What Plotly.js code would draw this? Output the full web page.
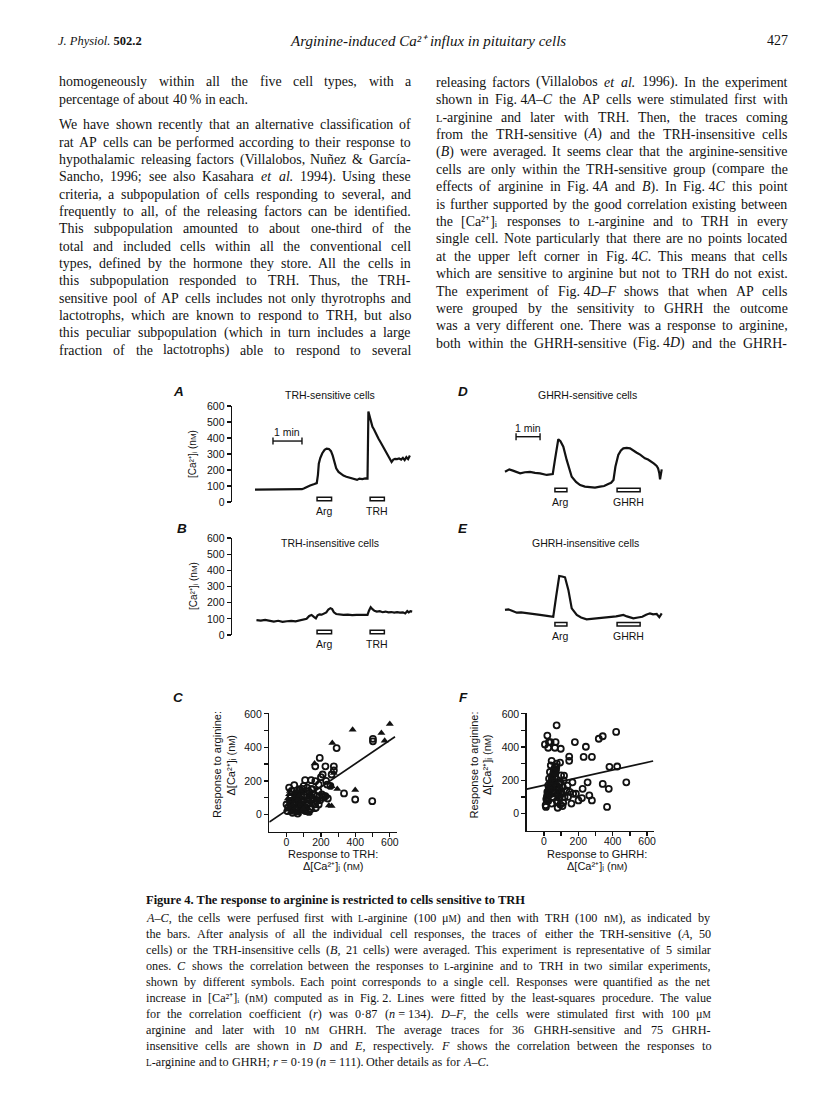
<!DOCTYPE html>
<html><head><meta charset="utf-8">
<script src="https://cdn.plot.ly/plotly-3.0.1.min.js"></script>
<style>html,body{margin:0;padding:0;background:#fff;}#chart{width:816px;height:1110px;}</style>
</head><body><div id="chart"></div>
<script>
// ---------------- DATA ----------------
// A: TRH-sensitive cells, time (min) and [Ca2+]i (nM)
const traceA_t = [0.00,0.25,0.50,0.75,1.00,1.25,1.50,1.62,1.70,1.78,1.90,2.05,2.13,2.17,2.20,2.25,2.32,2.40,2.47,2.55,2.62,2.68,2.74,2.80,2.88,2.95,3.05,3.15,3.25,3.35,3.45,3.52,3.60,3.70,3.80,3.88,3.91,3.95,4.00,4.05,4.10,4.18,4.26,4.34,4.42,4.50,4.58,4.65,4.71,4.77,4.83,4.90,4.97,5.04,5.10,5.16,5.22,5.28,5.34];
const traceA_ca = [77,78,76,77,79,79,80,80,86,95,103,112,118,170,240,275,305,326,334,331,318,290,245,210,188,176,165,158,152,147,141,138,146,143,147,146,565,540,500,470,455,420,395,370,345,318,290,265,250,265,270,268,272,265,276,262,280,268,290];
// B: TRH-insensitive cells
const traceB_t = [0.05,0.2,0.35,0.5,0.65,0.8,0.95,1.1,1.25,1.4,1.55,1.7,1.78,1.87,1.95,2.03,2.10,2.16,2.22,2.30,2.38,2.46,2.53,2.60,2.66,2.72,2.80,2.90,3.05,3.2,3.35,3.5,3.65,3.8,3.88,3.93,3.99,4.05,4.12,4.2,4.3,4.4,4.5,4.6,4.7,4.8,4.9,5.0,5.1,5.18,5.25,5.3,5.36,5.42];
const traceB_ca = [92,89,93,86,83,88,81,85,87,84,90,93,100,118,124,112,103,122,128,126,134,140,158,166,160,140,130,128,124,126,123,125,124,123,124,150,172,160,150,145,147,141,145,140,142,139,141,138,140,133,148,140,147,145];
// D: GHRH-sensitive cells
const traceD_t = [0,0.18,0.33,0.63,0.83,1.04,1.25,1.46,1.74,1.99,2.08,2.22,2.31,2.43,2.57,2.67,2.78,2.96,3.13,3.33,3.54,3.75,3.96,4.13,4.30,4.42,4.52,4.60,4.72,4.83,4.93,5.07,5.21,5.33,5.49,5.63,5.75,5.83,5.96,6.11,6.21,6.32,6.38,6.43,6.46,6.53];
const traceD_ca = [189,204,196,179,186,188,182,179,169,175,263,392,380,346,263,205,158,125,106,96,92,90,96,100,113,120,138,220,294,322,335,338,335,322,308,296,280,273,265,252,240,225,210,179,142,204];
// E: GHRH-insensitive cells
const traceE_t = [0,0.14,0.29,0.49,0.67,0.90,1.17,1.46,1.75,2.01,2.13,2.26,2.38,2.50,2.64,2.78,2.99,3.17,3.40,3.67,3.96,4.17,4.38,4.63,4.79,4.93,5.08,5.35,5.54,5.72,5.88,6.04,6.17,6.32,6.43,6.53];
const traceE_ca = [155,159,150,138,140,134,130,124,118,113,237,365,362,357,279,165,124,108,97,100,103,108,110,115,120,124,115,103,108,113,125,134,128,130,110,134];
// stimulus windows (min)
const argWindowAB = [2.14,2.64];
const trhWindowAB = [3.97,4.46];
const argWindowDE = [2.08,2.58];
const ghrhWindowDE = [4.67,5.63];
const scaleBarA_t = [0.62,1.62];
const scaleBarD_t = [0.46,1.46];
const stimLabelsAB = ["Arg","TRH"];
const stimLabelsDE = ["Arg","GHRH"];
// C: response to arginine vs TRH (two experiments)
const scatterC_tri_x = [384,600,551,570,266,399,20,163,275,295,262,246,262,230,180,140,10,15,25,30,40,45,55,60,70,75,85,90,100,110,120,130,145,155,20,35,50,65,80,95,105,115,125,5,12,28,48,68,88,108,8,18,33,43,58,73,83,98,113,128,138,150,62,78];
const scatterC_tri_y = [505,540,485,440,426,145,139,303,247,152,168,53,50,110,90,70,60,120,85,40,100,20,130,65,30,110,50,95,15,75,40,120,55,25,10,75,45,90,20,125,60,35,100,30,80,15,110,5,70,50,95,45,55,130,10,115,140,35,85,10,85,100,140,62];
const scatterC_circ_x = [502,502,291,193,167,226,275,275,210,200,108,143,167,187,236,262,334,399,498,226,177,187,92,128,212,240,150,120,160,185,195,140,100,75,60,50,40,30,20,10,5,35,55,70,85,95,110,125,135,150,165,175,15,45,65,80,105,115,130,145,25,0,90,170,205,230,255,215,120,60];
const scatterC_circ_y = [451,436,396,337,287,287,287,263,238,222,204,204,198,178,178,238,125,89,79,109,109,59,152,139,100,95,150,160,120,140,85,30,170,150,120,100,60,140,80,40,20,10,70,30,110,50,20,90,130,100,60,80,160,175,5,145,115,40,15,150,105,60,75,40,120,200,170,110,60,95];
const fitC_x = [-100,630];
const fitC_y = [-46,463];
// F: response to arginine vs GHRH
const scatterF_x = [74,20,6,29,39,68,25,64,98,420,342,319,180,244,147,147,231,279,45,94,381,426,479,342,377,254,225,166,137,117,68,170,186,201,221,264,279,367,
 10,15,20,25,30,35,40,45,50,55,60,65,70,75,80,85,90,95,100,105,110,115,120,
 12,22,32,42,52,62,72,82,92,102,112,
 18,28,38,48,58,68,78,88,98,108,
 15,25,35,45,55,65,75,85,95,
 20,30,40,50,60,70,80,
 25,35,45,55,65,
 130,140,150,160];
const scatterF_y = [531,469,416,430,430,430,396,396,390,491,465,450,430,402,343,317,341,341,317,307,281,283,188,178,149,188,149,188,168,228,267,119,119,79,93,109,79,40,
 50,90,130,170,210,250,290,60,100,140,180,220,260,300,70,110,150,190,230,120,160,200,100,
 40,80,120,160,200,240,280,140,180,130,65,
 105,145,185,225,265,125,165,95,115,45,
 85,125,165,205,245,285,75,115,55,
 95,135,175,215,255,155,35,
 75,115,155,195,120,
 140,100,130,60];
const fitF_x = [-100,635];
const fitF_y = [147,316];
const caTickVals = [0,100,200,300,400,500,600];
const scatterMajorTicks = [0,200,400,600];
const scatterMinorTicks = [100,300,500];

// text
const headerLeft = "<i>J. Physiol.</i> <b>502.2</b>";
const headerTitle = "<i>Arginine-induced Ca²⁺ influx in pituitary cells</i>";
const headerPage = "427";
const leftColumnLines = [
 "homogeneously within all the five cell types, with a",
 "percentage of about 40\u2009% in each.",
 "We have shown recently that an alternative classification of",
 "rat AP cells can be performed according to their response to",
 "hypothalamic releasing factors (Villalobos, Nuñez &amp; García-",
 "Sancho, 1996; see also Kasahara <i>et</i> <i>al.</i> 1994). Using these",
 "criteria, a subpopulation of cells responding to several, and",
 "frequently to all, of the releasing factors can be identified.",
 "This subpopulation amounted to about one-third of the",
 "total and included cells within all the conventional cell",
 "types, defined by the hormone they store. All the cells in",
 "this subpopulation responded to TRH. Thus, the TRH-",
 "sensitive pool of AP cells includes not only thyrotrophs and",
 "lactotrophs, which are known to respond to TRH, but also",
 "this peculiar subpopulation (which in turn includes a large",
 "fraction of the lactotrophs) able to respond to several"
];
const leftColumnJustified = [1,0,1,1,1,1,1,1,1,1,1,1,1,1,1,1];
const rightColumnLines = [
 "releasing factors (Villalobos <i>et</i> <i>al.</i> 1996). In the experiment",
 "shown in Fig.\u00a04<i>A–C</i> the AP cells were stimulated first with",
 "~L~-arginine and later with TRH. Then, the traces coming",
 "from the TRH-sensitive (<i>A</i>) and the TRH-insensitive cells",
 "(<i>B</i>) were averaged. It seems clear that the arginine-sensitive",
 "cells are only within the TRH-sensitive group (compare the",
 "effects of arginine in Fig.\u00a04<i>A</i> and <i>B</i>). In Fig.\u00a04<i>C</i> this point",
 "is further supported by the good correlation existing between",
 "the [Ca²⁺]ᵢ responses to ~L~-arginine and to TRH in every",
 "single cell. Note particularly that there are no points located",
 "at the upper left corner in Fig.\u00a04<i>C</i>. This means that cells",
 "which are sensitive to arginine but not to TRH do not exist.",
 "The experiment of Fig.\u00a04<i>D–F</i> shows that when AP cells",
 "were grouped by the sensitivity to GHRH the outcome",
 "was a very different one. There was a response to arginine,",
 "both within the GHRH-sensitive (Fig.\u00a04<i>D</i>) and the GHRH-"
];
const rightColumnJustified = [1,1,1,1,1,1,1,1,1,1,1,1,1,1,1,1];
const captionTitle = "<b>Figure 4. The response to arginine is restricted to cells sensitive to TRH</b>";
const captionLines = [
 "<i>A–C</i>, the cells were perfused first with ~L~-arginine (100 μ~M~) and then with TRH (100 n~M~), as indicated by",
 "the bars. After analysis of all the individual cell responses, the traces of either the TRH-sensitive (<i>A</i>, 50",
 "cells) or the TRH-insensitive cells (<i>B</i>, 21 cells) were averaged. This experiment is representative of 5 similar",
 "ones. <i>C</i> shows the correlation between the responses to ~L~-arginine and to TRH in two similar experiments,",
 "shown by different symbols. Each point corresponds to a single cell. Responses were quantified as the net",
 "increase in [Ca²⁺]ᵢ (n~M~) computed as in Fig.\u00a02. Lines were fitted by the least-squares procedure. The value",
 "for the correlation coefficient (<i>r</i>) was 0·87 (<i>n</i>\u00a0=\u00a0134). <i>D–F</i>, the cells were stimulated first with 100 μ~M~",
 "arginine and later with 10 n~M~ GHRH. The average traces for 36 GHRH-sensitive and 75 GHRH-",
 "insensitive cells are shown in <i>D</i> and <i>E</i>, respectively. <i>F</i> shows the correlation between the responses to",
 "~L~-arginine and to GHRH; <i>r</i>\u00a0=\u00a00·19 (<i>n</i>\u00a0=\u00a0111). Other details as for <i>A–C</i>."
];
const captionJustified = [1,1,1,1,1,1,1,1,1,0];
const panelTitles = ["TRH-sensitive cells","TRH-insensitive cells","GHRH-sensitive cells","GHRH-insensitive cells"];
const panelLetters = ["A","B","C","D","E","F"];
const caAxisLabel = "[Ca²⁺]ᵢ (n<span style=\"font-size:8px\">M</span>)";
const deltaCaLabel = "Δ[Ca²⁺]ᵢ (n<span style=\"font-size:8.5px\">M</span>)";
const yTitleScatter = "Response to arginine:";
const xTitleC = "Response to TRH:";
const xTitleF = "Response to GHRH:";
const scaleBarLabel = "1 min";

// ---------------- LAYOUT ----------------
const W = 816, H = 1110;
const SERIF = 'Liberation Serif, Times New Roman, serif';
const SANS = 'Liberation Sans, Arial, sans-serif';
const INK = '#121212';
const fx = v => v / W;
const fy = v => 1 - v / H;
const dx = (a, b) => [fx(a), fx(b)];
const dy = (top, bottom) => [fy(bottom), fy(top)];

const annotations = [];
const shapes = [];
function addText(xp, yp, text, font, opts) {
  annotations.push(Object.assign({xref:'paper', yref:'paper', x:fx(xp), y:fy(yp), text:text,
    font:Object.assign({color:INK}, font), showarrow:false, xanchor:'center', yanchor:'middle', borderpad:0}, opts || {}));
}
const lineSpecs = [];
function addBlock(lines, just, left, right, ys, font) {
  const scSize = Math.round(font.size * 0.76 * 10) / 10;
  lines.forEach((ln, k) => {
    const spec = {left:left, right:right, justify:!!just[k], idx:[], spaceW:font.size * 0.25, size:font.size};
    ln.split(' ').forEach(tok => {
      const html = tok.replace(/~([A-Za-z]+)~/g, (m, s) => '<span style="font-size:' + scSize + 'px">' + s + '</span>');
      spec.idx.push(annotations.length);
      addText(left, ys[k], html, Object.assign({}, font), {xanchor:'left'});
    });
    lineSpecs.push(spec);
  });
}

// header
const HEADER_Y = 41;
addText(57, HEADER_Y, headerLeft, {family:SERIF, size:12.5}, {xanchor:'left'});
addText(428, HEADER_Y, headerTitle, {family:SERIF, size:15});
addText(789, HEADER_Y, headerPage, {family:SERIF, size:14}, {xanchor:'right'});

// body columns
const bodyFont = {family:SERIF, size:13.9};
const leftYs = leftColumnLines.map((_, k) => k < 2 ? 81.7 + 17.33 * k : 125 + 17.33 * (k - 2));
addBlock(leftColumnLines, leftColumnJustified, 58.3, 410, leftYs, bodyFont);
const rightYs = rightColumnLines.map((_, k) => 82.3 + 17.4 * k);
addBlock(rightColumnLines, rightColumnJustified, 435, 786.5, rightYs, bodyFont);

// caption
addText(145, 900, captionTitle, {family:SERIF, size:12.5}, {xanchor:'left'});
const capYs = captionLines.map((_, k) => 918 + 16 * k);
addBlock(captionLines, captionJustified, 145, 710, capYs, {family:SERIF, size:12.2});

// figure text
const sans = s => ({family:SANS, size:s});
addText(330, 395, panelTitles[0], sans(10.5));
addText(330, 543, panelTitles[1], sans(10.5));
addText(587, 395, panelTitles[2], sans(10.5));
addText(585, 543, panelTitles[3], sans(10.5));
const letterPos = [[178,392],[182,528],[178,697],[463,392],[463,528],[463,697]];
panelLetters.forEach((L, i) => addText(letterPos[i][0], letterPos[i][1], '<b><i>' + L + '</i></b>', sans(13.5)));
addText(192, 454, caAxisLabel, sans(10), {textangle:-90});
addText(193, 586, caAxisLabel, sans(10), {textangle:-90});
// scatter axis titles
addText(217, 765, yTitleScatter, sans(11), {textangle:-90});
addText(230.5, 765, deltaCaLabel, sans(11), {textangle:-90});
addText(333, 853.5, xTitleC, sans(11));
addText(333, 866, deltaCaLabel, sans(11));
addText(473.5, 765, yTitleScatter, sans(11), {textangle:-90});
addText(487, 765, deltaCaLabel, sans(11), {textangle:-90});
addText(597, 853.5, xTitleF, sans(11));
addText(597, 866, deltaCaLabel, sans(11));

// stimulus bars and labels (data coordinates)
function stimBar(xa, ya, win, level, label) {
  shapes.push({type:'rect', xref:xa, yref:ya, x0:win[0], x1:win[1], y0:level - 11, y1:level + 11,
    line:{color:INK, width:1.5}, fillcolor:'#fff'});
  annotations.push({xref:xa, yref:ya, x:(win[0] + win[1]) / 2, y:level, yanchor:'top', yshift:-5,
    text:label, showarrow:false, font:{family:SANS, size:10.5, color:INK}, borderpad:0});
}
stimBar('x', 'y', argWindowAB, 19, stimLabelsAB[0]);
stimBar('x', 'y', trhWindowAB, 19, stimLabelsAB[1]);
stimBar('x2', 'y2', argWindowAB, 19, stimLabelsAB[0]);
stimBar('x2', 'y2', trhWindowAB, 19, stimLabelsAB[1]);
stimBar('x4', 'y4', argWindowDE, 75, stimLabelsDE[0]);
stimBar('x4', 'y4', ghrhWindowDE, 75, stimLabelsDE[1]);
stimBar('x5', 'y5', argWindowDE, 66, stimLabelsDE[0]);
stimBar('x5', 'y5', ghrhWindowDE, 66, stimLabelsDE[1]);
annotations.push({xref:'x', yref:'y', x:(scaleBarA_t[0] + scaleBarA_t[1]) / 2, y:381, yanchor:'bottom', yshift:2,
  text:scaleBarLabel, showarrow:false, font:{family:SANS, size:10.5, color:INK}, borderpad:0});
annotations.push({xref:'x4', yref:'y4', x:(scaleBarD_t[0] + scaleBarD_t[1]) / 2, y:408, yanchor:'bottom', yshift:2,
  text:scaleBarLabel, showarrow:false, font:{family:SANS, size:10.5, color:INK}, borderpad:0});

// ---------------- TRACES ----------------
const lineStyle = {color:INK, width:2.2};
const data = [
  {x:traceA_t, y:traceA_ca, xaxis:'x', yaxis:'y', mode:'lines', line:lineStyle},
  {x:traceB_t, y:traceB_ca, xaxis:'x2', yaxis:'y2', mode:'lines', line:lineStyle},
  {x:traceD_t, y:traceD_ca, xaxis:'x4', yaxis:'y4', mode:'lines', line:lineStyle},
  {x:traceE_t, y:traceE_ca, xaxis:'x5', yaxis:'y5', mode:'lines', line:lineStyle},
  {x:scaleBarA_t, y:[381,381], xaxis:'x', yaxis:'y', mode:'lines+markers', line:{color:INK, width:1.4},
    marker:{symbol:'line-ns-open', size:5, line:{color:INK, width:1.4}}},
  {x:scaleBarD_t, y:[408,408], xaxis:'x4', yaxis:'y4', mode:'lines+markers', line:{color:INK, width:1.4},
    marker:{symbol:'line-ns-open', size:5, line:{color:INK, width:1.4}}},
  {x:scatterC_circ_x, y:scatterC_circ_y, xaxis:'x3', yaxis:'y3', mode:'markers',
    marker:{symbol:'circle-open', size:6, color:INK, line:{width:1.8, color:INK}}, cliponaxis:false},
  {x:scatterC_tri_x, y:scatterC_tri_y, xaxis:'x3', yaxis:'y3', mode:'markers',
    marker:{symbol:'triangle-up', size:7, color:INK}, cliponaxis:false},
  {x:fitC_x, y:fitC_y, xaxis:'x3', yaxis:'y3', mode:'lines', line:{color:INK, width:1.7}},
  {x:scatterF_x, y:scatterF_y, xaxis:'x6', yaxis:'y6', mode:'markers',
    marker:{symbol:'circle-open', size:6, color:INK, line:{width:1.8, color:INK}}, cliponaxis:false},
  {x:fitF_x, y:fitF_y, xaxis:'x6', yaxis:'y6', mode:'lines', line:{color:INK, width:1.7}}
];

const axBase = {showline:true, linecolor:INK, linewidth:1.4, ticks:'outside', ticklen:4, tickwidth:1.3, tickcolor:INK,
  showgrid:false, zeroline:false, fixedrange:true, tickfont:{family:SANS, size:10.5, color:INK}};
const scatterAx = {tickmode:'array', tickvals:scatterMajorTicks,
  minor:{tickmode:'array', tickvals:scatterMinorTicks, ticks:'outside', ticklen:4, tickwidth:1.3, tickcolor:INK, showgrid:false}};
const hidden = {visible:false, fixedrange:true, showgrid:false, zeroline:false};
const layout = {
  width:W, height:H, margin:{l:0, r:0, t:0, b:0}, paper_bgcolor:'#fff', plot_bgcolor:'rgba(0,0,0,0)',
  showlegend:false, hovermode:false,
  xaxis:Object.assign({}, hidden, {domain:dx(232, 415), range:[-0.793, 5.517], anchor:'y'}),
  yaxis:Object.assign({}, axBase, {domain:dy(406, 502), range:[0, 600], tickvals:caTickVals, anchor:'x'}),
  xaxis2:Object.assign({}, hidden, {domain:dx(232, 415), range:[-0.793, 5.517], anchor:'y2'}),
  yaxis2:Object.assign({}, axBase, {domain:dy(538, 635), range:[0, 600], tickvals:caTickVals, anchor:'x2'}),
  xaxis3:Object.assign({}, axBase, scatterAx, {domain:dx(269.3, 396.7), range:[-100, 640], anchor:'y3', ticklabelstandoff:-4}),
  yaxis3:Object.assign({}, axBase, scatterAx, {domain:dy(713, 832), range:[-105, 605], anchor:'x3'}),
  xaxis4:Object.assign({}, hidden, {domain:dx(495, 670), range:[-0.417, 6.875], anchor:'y4'}),
  yaxis4:Object.assign({}, hidden, {domain:dy(406, 502), range:[0, 600], anchor:'x4'}),
  xaxis5:Object.assign({}, hidden, {domain:dx(495, 670), range:[-0.417, 6.875], anchor:'y5'}),
  yaxis5:Object.assign({}, hidden, {domain:dy(538, 635), range:[0, 600], anchor:'x5'}),
  xaxis6:Object.assign({}, axBase, scatterAx, {domain:dx(526.7, 654), range:[-100, 640], anchor:'y6', ticklabelstandoff:-4}),
  yaxis6:Object.assign({}, axBase, scatterAx, {domain:dy(713, 831), range:[-105, 605], anchor:'x6'}),
  annotations:annotations, shapes:shapes
};
const config = {staticPlot:true, displayModeBar:false};
const gd = document.getElementById('chart');

function justify() {
  const widths = {};
  gd.querySelectorAll('g.annotation').forEach(g => {
    const i = +g.getAttribute('data-index');
    const t = g.querySelector('text.annotation-text') || g.querySelector('text');
    if (t) widths[i] = t.getBBox().width;
  });
  const MIN_GAP = 2.6;
  lineSpecs.forEach(spec => {
    let ws = spec.idx.map(i => widths[i] || 0);
    const n = ws.length;
    const avail = spec.right - spec.left;
    let sum = ws.reduce((a, b) => a + b, 0);
    let gap = (spec.justify && n > 1) ? (avail - sum) / (n - 1) : spec.spaceW;
    if (spec.justify && n > 1 && gap < MIN_GAP) {
      const s = (avail - (n - 1) * MIN_GAP) / sum;
      ws = ws.map(w => w * s);
      spec.idx.forEach(i => { layout.annotations[i].font.size = spec.size * s; });
      gap = MIN_GAP;
    }
    let x = spec.left;
    spec.idx.forEach((i, k) => { layout.annotations[i].x = x / W; x += ws[k] + gap; });
  });
  return Plotly.react(gd, data, layout, config);
}
Plotly.newPlot(gd, data, layout, config).then(justify);
</script></body></html>
